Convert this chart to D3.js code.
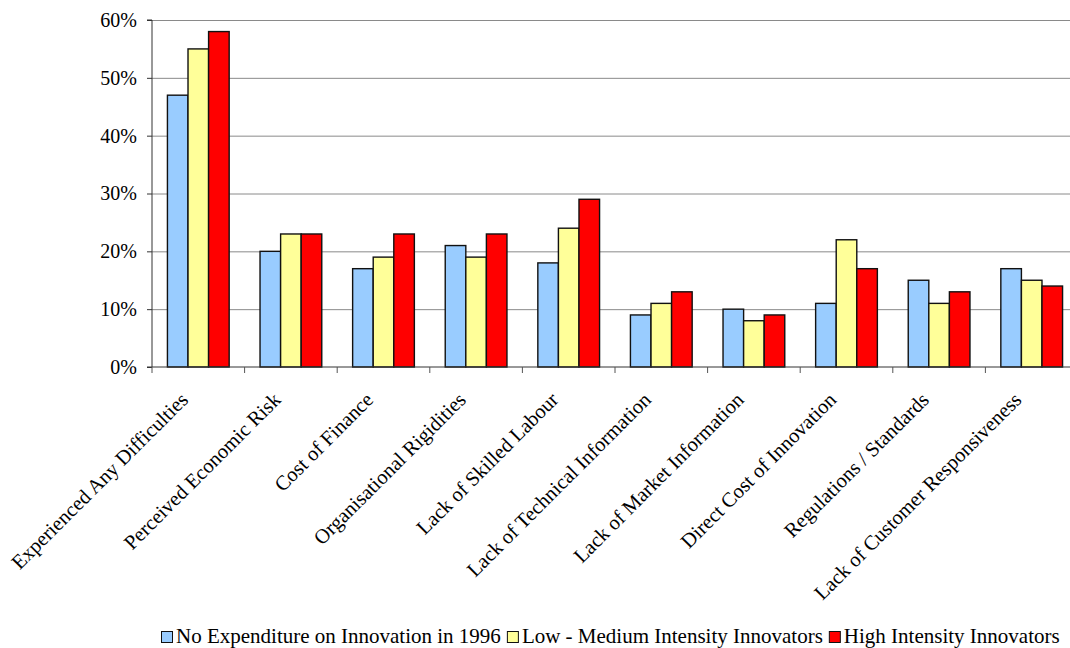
<!DOCTYPE html>
<html><head><meta charset="utf-8">
<script src="https://cdn.jsdelivr.net/npm/d3@7"></script>
<style>body{margin:0;background:#fff}svg{display:block}</style>
</head><body>
<svg id="c" width="1070" height="648"></svg>
<script>
const categories = ["Experienced Any Difficulties","Perceived Economic Risk","Cost of Finance","Organisational Rigidities","Lack of Skilled Labour","Lack of Technical Information","Lack of Market Information","Direct Cost of Innovation","Regulations / Standards","Lack of Customer Responsiveness"];
const seriesNames = ["No Expenditure on Innovation in 1996","Low - Medium Intensity Innovators","High Intensity Innovators"];
const noExpenditure = [47,20,17,21,18,9,10,11,15,17];
const lowMedium = [55,23,19,19,24,11,8,22,11,15];
const highIntensity = [58,23,23,23,29,13,9,17,13,14];
const colors = ["#99CCFF","#FFFF99","#FF0000"];
const yTicks = [0,10,20,30,40,50,60];

(function(){
const FONT = "Liberation Serif";
const svg = d3.select("#c");
const left = 152, right = 1078, topY = 20, bottom = 367;
const x = d3.scaleBand().domain(categories).range([left, right]).paddingInner(0).paddingOuter(0);
const y = d3.scaleLinear().domain([0,60]).range([bottom, topY]);
const bw = x.bandwidth()/4.5;
const series = [noExpenditure, lowMedium, highIntensity];

svg.append("g").selectAll("line").data(yTicks.filter(d=>d>0)).join("line")
  .attr("x1", left).attr("x2", 1070).attr("y1", d=>y(d)+0.5).attr("y2", d=>y(d)+0.5)
  .attr("stroke","#8a8a8a").attr("stroke-width",1);

series.forEach((vals, si) => {
  svg.append("g").selectAll("rect").data(categories).join("rect")
    .attr("x", (c)=> x(c) + bw*0.75 + si*bw)
    .attr("y", (c,i)=> y(vals[i]))
    .attr("width", bw)
    .attr("height", (c,i)=> y(0)-y(vals[i]))
    .attr("fill", colors[si]).attr("stroke","#111").attr("stroke-width",1.4);
});

const ya = svg.append("g").attr("transform",`translate(${left},0)`)
  .call(d3.axisLeft(y).tickValues(yTicks).tickFormat(d=>d+"%").tickSize(5).tickPadding(10));
ya.attr("font-family", null).attr("font-size", null);
ya.select(".domain").attr("stroke","#333").attr("d", `M-5,${topY}H0V${bottom}H-5`);
ya.selectAll(".tick line").attr("stroke","#333");
ya.selectAll(".tick text").attr("fill","#000").style("font-family", FONT).style("font-size","20px");

svg.append("line").attr("x1",left).attr("x2",1070).attr("y1",bottom).attr("y2",bottom).attr("stroke","#333");
const tickXs = d3.range(categories.length+1).map(i => left + i*x.step());
svg.append("g").selectAll("line").data(tickXs).join("line")
  .attr("x1",d=>d).attr("x2",d=>d).attr("y1",bottom).attr("y2",bottom+6).attr("stroke","#555");

svg.append("g").selectAll("text").data(categories).join("text")
  .attr("transform", c => `translate(${x(c)+x.bandwidth()/2-9},${bottom+34}) rotate(-45)`)
  .attr("text-anchor","end").attr("fill","#000")
  .style("font-family", FONT).style("font-size","20.5px").text(c=>c);

const legend = svg.append("g").attr("transform","translate(161,643)");
let lx = 0;
seriesNames.forEach((n,i)=>{
  const g = legend.append("g").attr("transform",`translate(${lx},0)`);
  g.append("rect").attr("x",0.5).attr("y",-11.5).attr("width",11).attr("height",11).attr("fill",colors[i]).attr("stroke","#111");
  const t = g.append("text").attr("x",15).attr("y",0).attr("fill","#000")
    .style("font-family", FONT).style("font-size","21px").text(n);
  lx += 15 + t.node().getComputedTextLength() + 6;
});
})();
</script>
</body></html>
